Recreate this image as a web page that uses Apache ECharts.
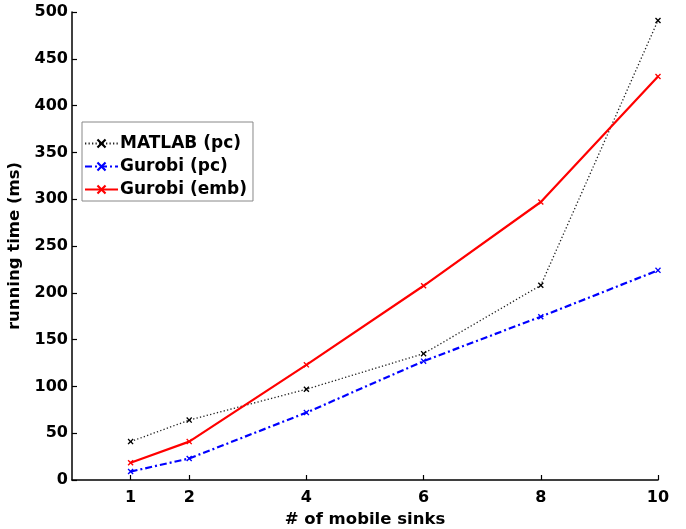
<!DOCTYPE html>
<html>
<head>
<meta charset="utf-8">
<script src="https://cdn.jsdelivr.net/npm/echarts@6/dist/echarts.min.js"></script>
<style>
  html, body { margin: 0; padding: 0; background: #fff; }
  #chart { width: 686px; height: 529px; }
</style>
</head>
<body>
<div id="chart"></div>
<script>
// Number of mobile sinks (x positions)
var sinks = [1, 2, 4, 6, 8, 10];
// Running times in ms
var matlabPc = [41, 64, 97, 135, 208, 491];
var gurobiPc = [9, 23, 72, 127, 174.5, 224];
var gurobiEmb = [18.5, 41, 123, 207.5, 297, 431];
// Tick labels
var xTicks = [1, 2, 4, 6, 8, 10];
var yTicks = [0, 50, 100, 150, 200, 250, 300, 350, 400, 450, 500];

var seriesNames = ['MATLAB (pc)', 'Gurobi (pc)', 'Gurobi (emb)'];

function pairs(xs, ys) {
  return xs.map(function (x, i) { return [x, ys[i]]; });
}

// filled "x" shaped marker
var crossSymbol = 'path://M0,1.6L1.6,0L5,3.4L8.4,0L10,1.6L6.6,5L10,8.4L8.4,10L5,6.6L1.6,10L0,8.4L3.4,5Z';

var font = '"DejaVu Sans", Verdana, sans-serif';

var chart = echarts.init(document.getElementById('chart'), null, { renderer: 'canvas' });

chart.setOption({
  animation: false,
  backgroundColor: '#fff',
  grid: { left: 72, top: 12, width: 586, height: 468, containLabel: false, outerBoundsMode: 'none' },
  legend: {
    orient: 'vertical',
    left: 82,
    top: 122,
    itemWidth: 33,
    itemHeight: 12,
    itemGap: 6,
    padding: [13, 6, 3, 2],
    borderColor: '#888',
    borderWidth: 1,
    backgroundColor: '#fff',
    textStyle: { fontFamily: font, fontSize: 17, fontWeight: 'bold', color: '#000', padding: [0, 0, 0, -3] },
    data: seriesNames
  },
  xAxis: {
    type: 'value',
    min: 0,
    max: 10,
    name: '# of mobile sinks',
    nameLocation: 'middle',
    nameGap: 26,
    nameTextStyle: { fontFamily: font, fontSize: 16.5, fontWeight: 'bold', color: '#000' },
    axisLine: { show: true, onZero: false, lineStyle: { color: '#000', width: 1.5 } },
    axisTick: { show: true, inside: true, length: 5, customValues: xTicks, lineStyle: { color: '#000', width: 1.2 } },
    axisLabel: { customValues: xTicks, fontFamily: font, fontSize: 16, fontWeight: 'bold', color: '#000', margin: 10 },
    splitLine: { show: false }
  },
  yAxis: {
    type: 'value',
    min: 0,
    max: 500,
    interval: 50,
    name: 'running time (ms)',
    nameLocation: 'middle',
    nameGap: 39,
    nameTextStyle: { fontFamily: font, fontSize: 16.5, fontWeight: 'bold', color: '#000' },
    axisLine: { show: true, lineStyle: { color: '#000', width: 1.5 } },
    axisTick: { show: true, inside: true, length: 5, lineStyle: { color: '#000', width: 1.2 } },
    axisLabel: {
      fontFamily: font, fontSize: 16, fontWeight: 'bold', color: '#000', margin: 4,
      formatter: function (v) { return yTicks.indexOf(v) >= 0 ? String(v) : ''; }
    },
    splitLine: { show: false }
  },
  series: [
    {
      name: seriesNames[0],
      type: 'line',
      data: pairs(sinks, matlabPc),
      symbol: crossSymbol,
      symbolSize: 6,
      showAllSymbol: true,
      lineStyle: { color: '#222', width: 1.3, type: [1.3, 2.2] },
      itemStyle: { color: '#000' },
      z: 3
    },
    {
      name: seriesNames[1],
      type: 'line',
      data: pairs(sinks, gurobiPc),
      symbol: crossSymbol,
      symbolSize: 6,
      lineStyle: { color: '#0000ff', width: 2.2, type: [7, 3, 2, 3] },
      itemStyle: { color: '#0000ff' },
      z: 4
    },
    {
      name: seriesNames[2],
      type: 'line',
      data: pairs(sinks, gurobiEmb),
      symbol: crossSymbol,
      symbolSize: 6,
      lineStyle: { color: '#ff0000', width: 2.2 },
      itemStyle: { color: '#ff0000' },
      z: 5
    }
  ]
});
</script>
</body>
</html>
